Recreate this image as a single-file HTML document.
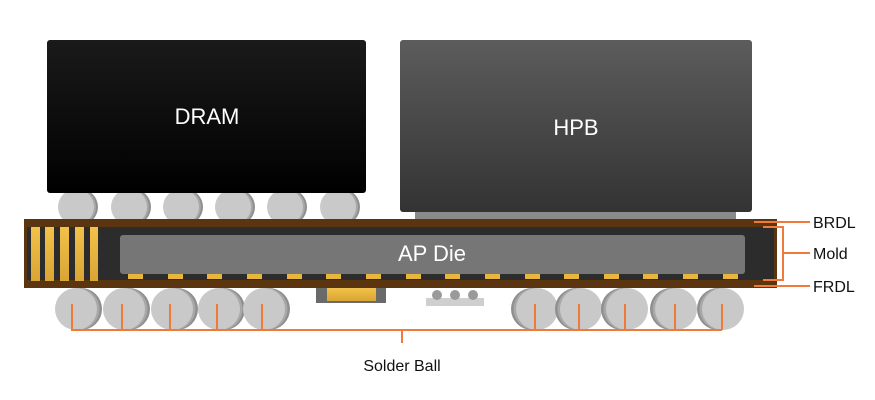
<!DOCTYPE html>
<html><head><style>
body{margin:0;background:#fff;}
svg{display:block;font-family:"Liberation Sans",sans-serif;}
</style></head><body>
<svg width="875" height="400" viewBox="0 0 875 400" xmlns="http://www.w3.org/2000/svg">
<defs>
<linearGradient id="hpb" x1="0" y1="0" x2="0" y2="1"><stop offset="0" stop-color="#5c5c5c"/><stop offset="1" stop-color="#333"/></linearGradient>
<linearGradient id="dram" x1="0" y1="0" x2="0" y2="1"><stop offset="0" stop-color="#1a1a1a"/><stop offset="1" stop-color="#000"/></linearGradient>
<linearGradient id="gold" x1="0" y1="0" x2="0" y2="1"><stop offset="0" stop-color="#f2c24a"/><stop offset="1" stop-color="#d9a533"/></linearGradient>
<g id="ub"><circle cx="4" cy="0" r="18" fill="#8f8f8f"/><circle cx="2" cy="0" r="18" fill="#a8a8a8"/><circle cx="0" cy="0" r="18" fill="#c9c9c9"/></g>
<g id="lb"><circle cx="5" cy="0" r="21" fill="#8f8f8f"/><circle cx="2.5" cy="0" r="21" fill="#a8a8a8"/><circle cx="0" cy="0" r="21" fill="#c9c9c9"/></g>
<g id="lbr"><circle cx="-5" cy="0" r="21" fill="#8f8f8f"/><circle cx="-2.5" cy="0" r="21" fill="#a8a8a8"/><circle cx="0" cy="0" r="21" fill="#c9c9c9"/></g>
</defs>
<!-- upper balls -->
<use href="#ub" x="76" y="207"/><use href="#ub" x="129" y="207"/><use href="#ub" x="181" y="207"/><use href="#ub" x="233" y="207"/><use href="#ub" x="285" y="207"/><use href="#ub" x="338" y="207"/>
<rect x="47" y="40" width="319" height="153" rx="3" fill="url(#dram)"/>
<text x="207" y="124" fill="#fff" font-size="22" text-anchor="middle">DRAM</text>
<rect x="415" y="205" width="321" height="16" fill="#8a8a8a"/>
<rect x="400" y="40" width="352" height="172" rx="3" fill="url(#hpb)"/>
<text x="576" y="135" fill="#fff" font-size="22" text-anchor="middle">HPB</text>
<!-- lower balls -->
<use href="#lb" x="76" y="309"/><use href="#lb" x="124" y="309"/><use href="#lb" x="172" y="309"/><use href="#lb" x="219" y="309"/><use href="#lb" x="264" y="309"/>
<use href="#lbr" x="537" y="309"/><use href="#lbr" x="581" y="309"/><use href="#lbr" x="627" y="309"/><use href="#lbr" x="676" y="309"/><use href="#lbr" x="723" y="309"/>
<!-- small components -->
<rect x="316" y="286" width="70" height="17" fill="#6a6a6a"/>
<rect x="327" y="288" width="49" height="13" fill="url(#gold)"/>
<rect x="426" y="298" width="58" height="8" fill="#cfcfcf"/>
<circle cx="437" cy="295" r="5" fill="#9a9a9a"/><circle cx="455" cy="295" r="5" fill="#9a9a9a"/><circle cx="473" cy="295" r="5" fill="#9a9a9a"/>
<!-- substrate -->
<rect x="24" y="219" width="753" height="69" fill="#5a3510"/>
<rect x="27" y="227" width="747" height="53" fill="#2c2c2c"/>
<rect x="31" y="227" width="9" height="54" fill="url(#gold)"/>
<rect x="45" y="227" width="9" height="54" fill="url(#gold)"/>
<rect x="60" y="227" width="9" height="54" fill="url(#gold)"/>
<rect x="75" y="227" width="9" height="54" fill="url(#gold)"/>
<rect x="90" y="227" width="8" height="54" fill="url(#gold)"/>
<rect x="120" y="235" width="625" height="39" rx="3" fill="#767676"/>
<text x="432" y="261" fill="#fff" font-size="22" text-anchor="middle">AP Die</text>
<g fill="#e8b63c">
<rect x="128" y="274" width="15" height="5"/><rect x="168" y="274" width="15" height="5"/><rect x="207" y="274" width="15" height="5"/><rect x="247" y="274" width="15" height="5"/><rect x="287" y="274" width="15" height="5"/><rect x="326" y="274" width="15" height="5"/><rect x="366" y="274" width="15" height="5"/><rect x="406" y="274" width="15" height="5"/><rect x="445" y="274" width="15" height="5"/><rect x="485" y="274" width="15" height="5"/><rect x="525" y="274" width="15" height="5"/><rect x="564" y="274" width="15" height="5"/><rect x="604" y="274" width="15" height="5"/><rect x="643" y="274" width="15" height="5"/><rect x="683" y="274" width="15" height="5"/><rect x="723" y="274" width="15" height="5"/>
</g>
<!-- orange lines -->
<g stroke="#f07a3a" stroke-width="2" fill="none">
<path d="M72 304V330H722M122 304V330M170 304V330M217 304V330M262 304V330M535 304V330M579 304V330M625 304V330M675 304V330M722 304V330M402 330V343"/>
<path d="M754 222H810M754 286H810M763 227H783V280H763M783 253H810"/>
</g>
<g font-size="16" fill="#111">
<text x="813" y="228">BRDL</text>
<text x="813" y="259">Mold</text>
<text x="813" y="292">FRDL</text>
<text x="402" y="371" text-anchor="middle">Solder Ball</text>
</g>
</svg>
</body></html>
